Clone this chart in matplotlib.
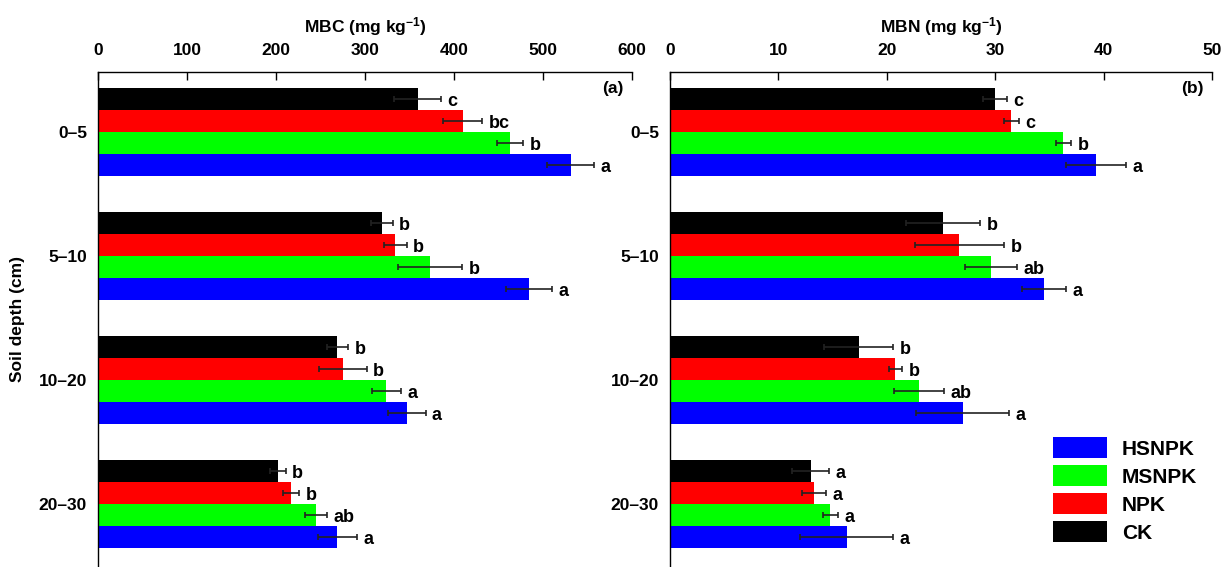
import matplotlib
matplotlib.use('Agg')
import matplotlib.pyplot as plt
from matplotlib.patches import Patch
import numpy as np

plt.rcParams['font.family'] = ['Liberation Sans', 'DejaVu Sans']
plt.rcParams['font.weight'] = 'bold'
plt.rcParams['mathtext.fontset'] = 'custom'
plt.rcParams['mathtext.rm'] = 'Liberation Sans:bold'
plt.rcParams['mathtext.bf'] = 'Liberation Sans:bold'
plt.rcParams['mathtext.default'] = 'bf'

depths = ['0–5', '5–10', '10–20', '20–30']
treatments = ['CK', 'NPK', 'MSNPK', 'HSNPK']
colors = {'CK': '#000000', 'NPK': '#ff0000', 'MSNPK': '#00ff00', 'HSNPK': '#0000ff'}

# MBC (mg kg-1), rows = depths
mbc_ck = [359, 319, 269, 202]
mbc_npk = [410, 334, 275, 217]
mbc_msnpk = [463, 373, 324, 245]
mbc_hsnpk = [531, 484, 347, 269]
mbc_err_ck = [26, 12, 12, 9]
mbc_err_npk = [22, 13, 27, 9]
mbc_err_msnpk = [15, 36, 16, 12]
mbc_err_hsnpk = [26, 26, 21, 22]
mbc_let_ck = ['c', 'b', 'b', 'b']
mbc_let_npk = ['bc', 'b', 'b', 'b']
mbc_let_msnpk = ['b', 'b', 'a', 'ab']
mbc_let_hsnpk = ['a', 'a', 'a', 'a']

# MBN (mg kg-1)
mbn_ck = [30.0, 25.2, 17.4, 13.0]
mbn_npk = [31.5, 26.7, 20.8, 13.3]
mbn_msnpk = [36.3, 29.6, 23.0, 14.8]
mbn_hsnpk = [39.3, 34.5, 27.0, 16.3]
mbn_err_ck = [1.1, 3.4, 3.2, 1.7]
mbn_err_npk = [0.7, 4.1, 0.6, 1.1]
mbn_err_msnpk = [0.7, 2.4, 2.3, 0.7]
mbn_err_hsnpk = [2.8, 2.0, 4.3, 4.3]
mbn_let_ck = ['c', 'b', 'b', 'a']
mbn_let_npk = ['c', 'b', 'b', 'a']
mbn_let_msnpk = ['b', 'ab', 'ab', 'a']
mbn_let_hsnpk = ['a', 'a', 'a', 'a']

panels = [
    dict(vals=[mbc_ck, mbc_npk, mbc_msnpk, mbc_hsnpk],
         errs=[mbc_err_ck, mbc_err_npk, mbc_err_msnpk, mbc_err_hsnpk],
         lets=[mbc_let_ck, mbc_let_npk, mbc_let_msnpk, mbc_let_hsnpk],
         xlim=600, step=100, xlabel='MBC (mg kg$^{-1}$)', tag='(a)'),
    dict(vals=[mbn_ck, mbn_npk, mbn_msnpk, mbn_hsnpk],
         errs=[mbn_err_ck, mbn_err_npk, mbn_err_msnpk, mbn_err_hsnpk],
         lets=[mbn_let_ck, mbn_let_npk, mbn_let_msnpk, mbn_let_hsnpk],
         xlim=50, step=10, xlabel='MBN (mg kg$^{-1}$)', tag='(b)'),
]

fig = plt.figure(figsize=(12.3, 5.67), dpi=100)
W, H = 1230, 567
axes_px = [(98, 632), (670, 1212)]
top_px = 72

h = 0.177
y = np.arange(len(depths))

for k, (p, (x0, x1)) in enumerate(zip(panels, axes_px)):
    ax = fig.add_axes([x0 / W, 0, (x1 - x0) / W, 1 - top_px / H])
    for j, t in enumerate(treatments):
        off = (j - 1.5) * h
        ax.barh(y + off, p['vals'][j], height=h, color=colors[t], edgecolor='none',
                label=t, zorder=2)
        ax.errorbar(p['vals'][j], y + off, xerr=p['errs'][j], fmt='none',
                    ecolor='#222222', elinewidth=1.2, capsize=2.5, capthick=1.2, zorder=3)
        for i in range(len(depths)):
            ax.text(p['vals'][j][i] + p['errs'][j][i] + p['xlim'] * 0.012, y[i] + off + 0.02,
                    p['lets'][j][i], ha='left', va='center', fontsize=13,
                    fontweight='bold')
    ax.set_xlim(0, p['xlim'])
    ax.set_ylim(3.508, -0.484)
    ax.set_yticks(y)
    ax.set_yticklabels(depths, fontsize=12.5, fontweight='bold')
    ax.set_xticks(np.arange(0, p['xlim'] + 1, p['step']))
    ax.xaxis.tick_top()
    ax.xaxis.set_label_position('top')
    ax.tick_params(axis='x', direction='in', length=6, width=1, labelsize=12.5, pad=10)
    ax.tick_params(axis='y', length=0, pad=8)
    for lab in ax.get_xticklabels():
        lab.set_fontweight('bold')
    ax.set_xlabel(p['xlabel'], fontsize=12.5, fontweight='bold', labelpad=8)
    ax.spines['right'].set_visible(False)
    ax.spines['bottom'].set_visible(False)
    ax.spines['top'].set_linewidth(1)
    ax.spines['left'].set_linewidth(1)
    ax.text(0.985, 1 - 16 / 495, p['tag'], transform=ax.transAxes, ha='right', va='center',
            fontsize=12.5, fontweight='bold')
    if k == 0:
        ax.set_ylabel('Soil depth (cm)', fontsize=12.5, fontweight='bold', labelpad=10)

handles = [Patch(facecolor=colors[t], edgecolor='none', label=t)
           for t in ['HSNPK', 'MSNPK', 'NPK', 'CK']]
fig.legend(handles=handles, loc='upper left', bbox_to_anchor=(1053 / W, 1 - 437 / H),
           frameon=False, prop={'size': 15, 'weight': 'bold'}, handlelength=2.6,
           handleheight=1.2, labelspacing=0.3, handletextpad=0.7, borderpad=0,
           borderaxespad=0)

fig.savefig('out.png', dpi=100)
